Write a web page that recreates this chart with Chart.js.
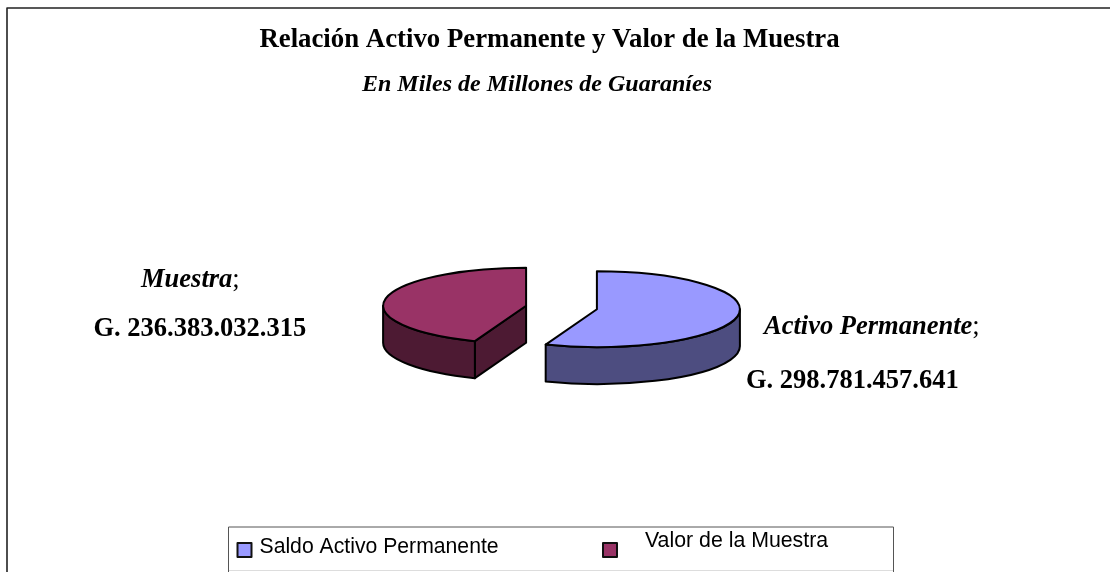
<!DOCTYPE html>
<html>
<head>
<meta charset="utf-8">
<style>
  html, body { margin: 0; padding: 0; background: #fff; overflow: hidden; }
</style>
<script src="https://cdn.jsdelivr.net/npm/chart.js@4/dist/chart.umd.min.js"></script>
</head>
<body>
<canvas id="pieChart" width="1110" height="572"></canvas>
<script>
const categories = ['Saldo Activo Permanente', 'Valor de la Muestra'];
const values = [298781457641, 236383032315];
const sliceNames = ['Activo Permanente', 'Muestra'];
const sliceValues = ['G. 298.781.457.641', 'G. 236.383.032.315'];
const topColors = ['#9999ff', '#993366'];
const sideColors = ['#4d4d80', '#4d1a33'];
const titleText = 'Relación Activo Permanente y Valor de la Muestra';
const subtitleText = 'En Miles de Millones de Guaraníes';

const SQUASH = 0.265; // tilt of the pie
const DEPTH = 37;     // height of the side wall
const EXPLODE = 36;   // how far each slice is pulled out
const EDGE = 2;       // outline of the pie
const SERIF = '"Liberation Serif"';
const SANS = '"Liberation Sans"';

// puts text on the canvas, x is the left edge unless align is given
const putText = (ctx, text, x, y, font, align = 'left') => {
  ctx.font = font;
  ctx.textAlign = align;
  ctx.textBaseline = 'alphabetic';
  ctx.fillStyle = '#000';
  ctx.fillText(text, x, y);
};

const pivotY = (chart) => (chart.chartArea.top + chart.chartArea.bottom) / 2;

// center of a slice on screen, after the tilt
const sliceCenter = (chart, arc) => {
  const pivot = pivotY(chart);
  return { x: arc.x, y: pivot + (arc.y - pivot) * SQUASH };
};

const drawWalls = (chart, arc, color) => {
  const { ctx } = chart;
  const c = sliceCenter(chart, arc);
  const r = arc.outerRadius;
  const ry = r * SQUASH;
  const s = arc.startAngle;
  const e = arc.endAngle;
  ctx.fillStyle = color;
  ctx.strokeStyle = '#000';
  ctx.lineWidth = EDGE;
  ctx.lineJoin = 'round';

  const radialWall = (angle) => {
    const px = c.x + Math.cos(angle) * r;
    const py = c.y + Math.sin(angle) * ry;
    ctx.beginPath();
    ctx.moveTo(c.x, c.y);
    ctx.lineTo(px, py);
    ctx.lineTo(px, py + DEPTH);
    ctx.lineTo(c.x, c.y + DEPTH);
    ctx.closePath();
    ctx.fill();
    ctx.stroke();
  };
  if (Math.cos(s) < -1e-6) radialWall(s);
  if (Math.cos(e) > 1e-6) radialWall(e);

  // outer wall, only the part that faces the viewer
  const from = Math.max(s, 0);
  const to = Math.min(e, Math.PI);
  if (to > from) {
    ctx.beginPath();
    ctx.ellipse(c.x, c.y, r, ry, 0, from, to);
    ctx.ellipse(c.x, c.y + DEPTH, r, ry, 0, to, from, true);
    ctx.closePath();
    ctx.fill();
    ctx.stroke();
  }
};

const drawTopOutline = (chart, arc) => {
  const { ctx } = chart;
  const c = sliceCenter(chart, arc);
  ctx.strokeStyle = '#000';
  ctx.lineWidth = EDGE;
  ctx.lineJoin = 'round';
  ctx.beginPath();
  ctx.moveTo(c.x, c.y);
  ctx.ellipse(c.x, c.y, arc.outerRadius, arc.outerRadius * SQUASH, 0, arc.startAngle, arc.endAngle);
  ctx.closePath();
  ctx.stroke();
};

// tilts the pie and adds the walls around the library's own slices
const pie3d = {
  id: 'pie3d',
  afterDatasetsUpdate(chart) {
    // the offset option also grows the radius, so the slices are moved here
    chart.getDatasetMeta(0).data.forEach((arc) => {
      const mid = (arc.startAngle + arc.endAngle) / 2;
      arc.x += Math.cos(mid) * EXPLODE;
      arc.y += Math.sin(mid) * EXPLODE;
    });
  },
  beforeDatasetsDraw(chart) {
    const { ctx } = chart;
    const pivot = pivotY(chart);
    chart.getDatasetMeta(0).data.forEach((arc, i) => drawWalls(chart, arc, sideColors[i]));
    ctx.save();
    ctx.translate(0, pivot);
    ctx.scale(1, SQUASH);
    ctx.translate(0, -pivot);
  },
  afterDatasetsDraw(chart) {
    chart.ctx.restore();
    chart.getDatasetMeta(0).data.forEach((arc) => drawTopOutline(chart, arc));
  },
};

const annotations = {
  id: 'annotations',
  afterDraw(chart) {
    const { ctx } = chart;
    ctx.save();

    // outer frame, cut by the page on the right and at the bottom
    ctx.strokeStyle = '#222';
    ctx.lineWidth = 1.6;
    ctx.beginPath();
    ctx.moveTo(7, 572);
    ctx.lineTo(7, 8);
    ctx.lineTo(1110, 8);
    ctx.stroke();

    putText(ctx, titleText, 549.5, 46.5, `bold 26.8px ${SERIF}`, 'center');
    putText(ctx, subtitleText, 537, 91, `italic bold 24px ${SERIF}`, 'center');

    // slice labels
    const labelItalic = `italic bold 26.5px ${SERIF}`;
    const labelPlain = `26.5px ${SERIF}`;
    const labelBold = `bold 26.5px ${SERIF}`;
    putText(ctx, sliceNames[1], 141, 287, labelItalic);
    putText(ctx, ';', ctx.measureText(sliceNames[1]).width + 141, 287, labelPlain);
    putText(ctx, sliceValues[1], 93.5, 336, labelBold);
    putText(ctx, sliceNames[0], 764, 333.5, labelItalic);
    putText(ctx, ';', ctx.measureText(sliceNames[0]).width + 764, 333.5, labelPlain);
    putText(ctx, sliceValues[0], 746, 388, labelBold);

    // legend box, the bottom edge is almost gone in the picture
    ctx.strokeStyle = '#dddddd';
    ctx.lineWidth = 1;
    ctx.beginPath();
    ctx.moveTo(228, 570.5);
    ctx.lineTo(894, 570.5);
    ctx.stroke();
    ctx.strokeStyle = '#555';
    ctx.beginPath();
    ctx.moveTo(228.5, 572);
    ctx.lineTo(228.5, 527);
    ctx.lineTo(893.5, 527);
    ctx.lineTo(893.5, 572);
    ctx.stroke();

    const swatches = [[237.5, 543], [603, 543]];
    swatches.forEach(([x, y], i) => {
      ctx.fillStyle = topColors[i];
      ctx.strokeStyle = '#111';
      ctx.lineWidth = EDGE;
      ctx.fillRect(x, y, 14, 14);
      ctx.strokeRect(x, y, 14, 14);
    });
    putText(ctx, categories[0], 259.5, 553, `21.2px ${SANS}`);
    putText(ctx, categories[1], 645, 546.5, `21.3px ${SANS}`);
    ctx.restore();
  },
};

const renderChart = () => {
  const ctx = document.getElementById('pieChart').getContext('2d');
  new Chart(ctx, {
    type: 'pie',
    data: {
      labels: categories,
      datasets: [{
        data: values,
        backgroundColor: topColors,
        borderWidth: 0,
      }],
    },
    options: {
      responsive: false,
      animation: false,
      radius: 143,
      layout: { padding: { left: 13, top: 43 } },
      plugins: {
        legend: { display: false },
        title: { display: false },
        tooltip: { enabled: false },
      },
    },
    plugins: [pie3d, annotations],
  });
};

renderChart();
</script>
</body>
</html>
